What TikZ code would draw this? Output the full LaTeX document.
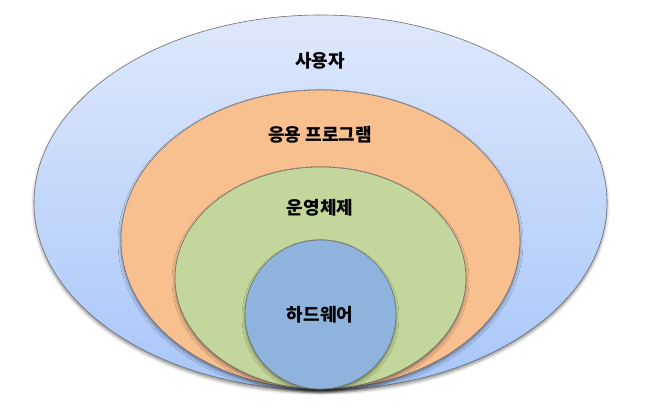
\documentclass[tikz,border=0pt]{standalone}
\usepackage{fontspec}
\setmainfont{Noto Sans CJK KR}
\usetikzlibrary{shapes.geometric,shadows.blur}
\definecolor{outtop}{RGB}{222,232,252}
\definecolor{outbot}{RGB}{168,198,249}
\definecolor{appfill}{RGB}{248,191,143}
\definecolor{osfill}{RGB}{195,214,155}
\definecolor{hwfill}{RGB}{142,180,222}
\definecolor{edge}{RGB}{110,110,110}
\tikzset{
  layer/.style={ellipse, draw=edge, line width=0.6pt, inner sep=0pt,
    blur shadow={shadow xshift=0pt, shadow yshift=-2.5pt, shadow blur radius=3pt, shadow opacity=45}},
  lbl/.style={font=\fontsize{18}{20}\selectfont\bfseries, text=black, inner sep=0pt}
}
\begin{document}
\begin{tikzpicture}[x=1pt,y=-1pt]
\useasboundingbox (0,0) rectangle (647,407);
\node[layer, top color=outtop, bottom color=outbot, minimum width=573pt, minimum height=375pt] (user) at (320.5,202.5) {};
\node[layer, fill=appfill, minimum width=399pt, minimum height=299pt] (app) at (320.5,239.5) {};
\node[layer, fill=osfill, minimum width=291pt, minimum height=222pt] (os) at (320.5,278) {};
\node[layer, fill=hwfill, minimum width=151pt, minimum height=149pt] (hw) at (320.5,314.5) {};
\node[lbl] (tuser) at (320,61) {사용자};
\node[lbl] (tapp) at (320,135) {응용 프로그램};
\node[lbl] (tos) at (320,208) {운영체제};
\node[lbl] (thw) at (320,315) {하드웨어};
\end{tikzpicture}
\end{document}
